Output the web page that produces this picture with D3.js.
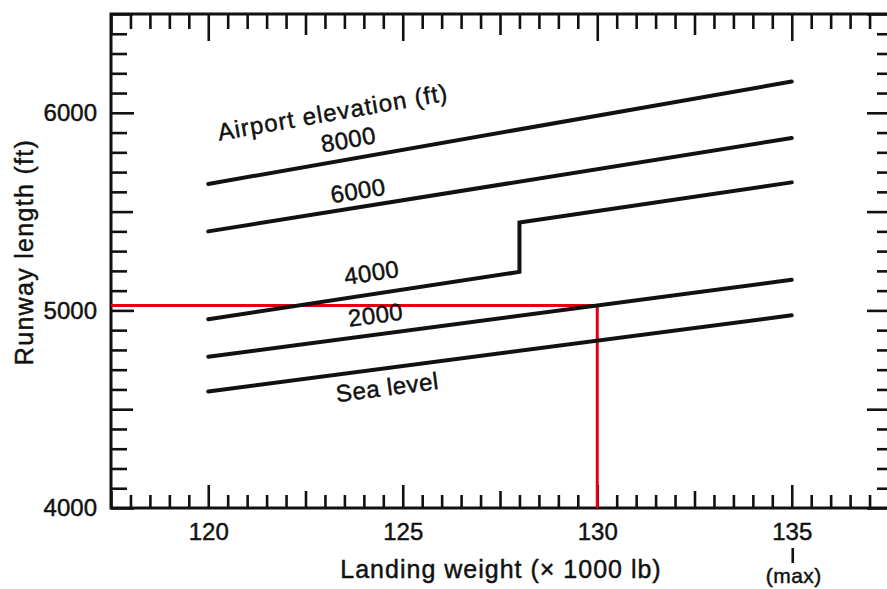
<!DOCTYPE html>
<html>
<head>
<meta charset="utf-8">
<script src="https://cdn.jsdelivr.net/npm/d3@7"></script>
<style>
  html, body { margin: 0; padding: 0; background: #fff; overflow: hidden; }
  svg text { font-family: "Liberation Sans", Arial, Helvetica, sans-serif; fill: #111; stroke: #111; stroke-width: 0.45px; }
</style>
</head>
<body>
<svg id="chart" width="887" height="589"></svg>
<script>
// ---- data ----
const weights = [120, 135];                       // landing weight, x 1000 lb
const seaLevel = [4590, 4975];                    // runway length, ft
const elev2000 = [4765, 5155];
const elev6000 = [5400, 5872];
const elev8000 = [5640, 6158];
const elev4000Weights = [120, 128, 128, 135];
const elev4000 = [4955, 5195, 5445, 5648];
const seriesNames = ["Sea level", "2000", "4000", "6000", "8000"];
const xTickLabels = [120, 125, 130, 135];
const yTickLabels = [4000, 5000, 6000];
const maxWeight = 135;
const exampleWeight = 130;
const exampleLength = 5025;

// ---- layout ----
const svg = d3.select("#chart");
const x = d3.scaleLinear().domain([117.5, 137.5]).range([111, 889]);
const y = d3.scaleLinear().domain([4000, 6500]).range([508, 14]);
const FS = 24;

const series = [
  { name: seriesNames[0], xs: weights, ys: seaLevel, at: 124.6, off: 19 },
  { name: seriesNames[1], xs: weights, ys: elev2000, at: 124.3, off: -20 },
  { name: seriesNames[2], xs: elev4000Weights, ys: elev4000, at: 124.2, off: -22 },
  { name: seriesNames[3], xs: weights, ys: elev6000, at: 123.85, off: -17 },
  { name: seriesNames[4], xs: weights, ys: elev8000, at: 123.6, off: -20 }
];

// frame
svg.append("rect")
  .attr("x", x.range()[0]).attr("y", y.range()[1])
  .attr("width", x.range()[1] - x.range()[0])
  .attr("height", y.range()[0] - y.range()[1])
  .attr("fill", "none").attr("stroke", "#111").attr("stroke-width", 3);

// tick helpers
const [x0, x1] = x.domain();
const xMinor = d3.range(x0, x1 + 0.001, 0.5).filter(v => Math.abs(v % 2.5) > 1e-6);
const xMid = d3.range(x0, x1 + 0.001, 2.5).filter(v => Math.abs(v % 5) > 1e-6);
const xMajor = d3.range(120, x1 + 0.001, 5);
const [y0, y1] = y.domain();
const yMinor = d3.range(y0, y1 + 1, 100).filter(v => v % 500 !== 0);
const yMid = d3.range(y0, y1 + 1, 500).filter(v => v % 1000 !== 0);
const yMajor = d3.range(y0, y1 + 1, 1000);

function tickGroup(axisFn, scale, values, size, tx, ty) {
  const g = svg.append("g").attr("transform", `translate(${tx},${ty})`)
    .call(axisFn(scale).tickValues(values).tickSize(size).tickFormat(""));
  g.select(".domain").remove();
  g.selectAll(".tick line").attr("stroke", "#111").attr("stroke-width", 2.6);
  return g;
}
const bY = y.range()[0], tY = y.range()[1], lX = x.range()[0], rX = x.range()[1];
// bottom (ticks pointing up)
tickGroup(d3.axisBottom, x, xMinor, -13, 0, bY);
tickGroup(d3.axisBottom, x, xMid, -17, 0, bY);
tickGroup(d3.axisBottom, x, xMajor, -23, 0, bY);
// top (ticks pointing down)
tickGroup(d3.axisTop, x, xMinor, -15, 0, tY);
tickGroup(d3.axisTop, x, xMid, -21, 0, tY);
tickGroup(d3.axisTop, x, xMajor, -27, 0, tY);
// left (ticks pointing right)
tickGroup(d3.axisLeft, y, yMinor, -16, lX, 0);
tickGroup(d3.axisLeft, y, yMid, -22, lX, 0);
tickGroup(d3.axisLeft, y, yMajor, -23, lX, 0);
// right (ticks pointing left)
tickGroup(d3.axisRight, y, yMinor, -12, rX, 0);
tickGroup(d3.axisRight, y, yMid, -22, rX, 0);
tickGroup(d3.axisRight, y, yMajor, -22, rX, 0);

// tick labels
const xl = svg.append("g").attr("transform", `translate(0,${bY})`)
  .call(d3.axisBottom(x).tickValues(xTickLabels).tickSize(0).tickPadding(15).tickFormat(d3.format("d")));
xl.select(".domain").remove();
xl.selectAll("text").attr("font-size", FS).attr("fill", "#111")
  .style("font-family", '"Liberation Sans", Arial, sans-serif');
const yl = svg.append("g").attr("transform", `translate(${lX},0)`)
  .call(d3.axisLeft(y).tickValues(yTickLabels).tickSize(0).tickPadding(14).tickFormat(d3.format("d")));
yl.select(".domain").remove();
yl.selectAll("text").attr("font-size", FS).attr("fill", "#111")
  .style("font-family", '"Liberation Sans", Arial, sans-serif');

// "(max)" marker under 135: a short bar, then the note
const maxX = x(maxWeight);
svg.append("line").attr("x1", maxX + 1).attr("x2", maxX + 1).attr("y1", 548).attr("y2", 563)
  .attr("stroke", "#111").attr("stroke-width", 2.6);
svg.append("text").attr("x", maxX + 2).attr("y", 583).attr("text-anchor", "middle")
  .attr("font-size", 21).attr("letter-spacing", 0.5).text("(max)");

// axis titles
svg.append("text").attr("x", 501).attr("y", 578).attr("text-anchor", "middle")
  .attr("font-size", 25).attr("letter-spacing", 1).text("Landing weight (× 1000 lb)");
svg.append("text").attr("transform", "translate(33,252) rotate(-90)")
  .attr("text-anchor", "middle").attr("font-size", 25).attr("letter-spacing", 1.3).text("Runway length (ft)");

// red example lines
svg.append("path")
  .attr("d", d3.line()([[lX, y(exampleLength)], [x(exampleWeight), y(exampleLength)], [x(exampleWeight), bY]]))
  .attr("fill", "none").attr("stroke", "#e3000f").attr("stroke-width", 3);

// series lines
const line = d3.line().x(d => x(d[0])).y(d => y(d[1]));
series.forEach(s => {
  const pts = s.xs.map((v, i) => [v, s.ys[i]]);
  svg.append("path").attr("d", line(pts))
    .attr("fill", "none").attr("stroke", "#111").attr("stroke-width", 4)
    .attr("stroke-linejoin", "miter").attr("stroke-linecap", "round");
});

// series labels along the lines
function valueAt(s, wv) {
  for (let i = 0; i < s.xs.length - 1; i++) {
    if (wv >= s.xs[i] && wv <= s.xs[i + 1] && s.xs[i + 1] > s.xs[i]) {
      const t = (wv - s.xs[i]) / (s.xs[i + 1] - s.xs[i]);
      return { v: s.ys[i] + t * (s.ys[i + 1] - s.ys[i]),
               ang: Math.atan2(y(s.ys[i + 1]) - y(s.ys[i]), x(s.xs[i + 1]) - x(s.xs[i])) * 180 / Math.PI };
    }
  }
  return { v: s.ys[0], ang: 0 };
}
series.forEach(s => {
  const p = valueAt(s, s.at);
  const px = x(s.at), py = y(p.v) + s.off;
  svg.append("text")
    .attr("transform", `translate(${px},${py}) rotate(${p.ang})`)
    .attr("text-anchor", "middle").attr("dominant-baseline", "central")
    .attr("font-size", FS).attr("letter-spacing", 0.5).text(s.name);
});
// header above the top series
const topSeries = series[4];
const tp = valueAt(topSeries, 123.2);
svg.append("text")
  .attr("transform", `translate(${x(123.2)},${y(tp.v) - 50}) rotate(${tp.ang})`)
  .attr("text-anchor", "middle").attr("dominant-baseline", "central")
  .attr("font-size", FS).attr("letter-spacing", 1.1).text("Airport elevation (ft)");
</script>
</body>
</html>
